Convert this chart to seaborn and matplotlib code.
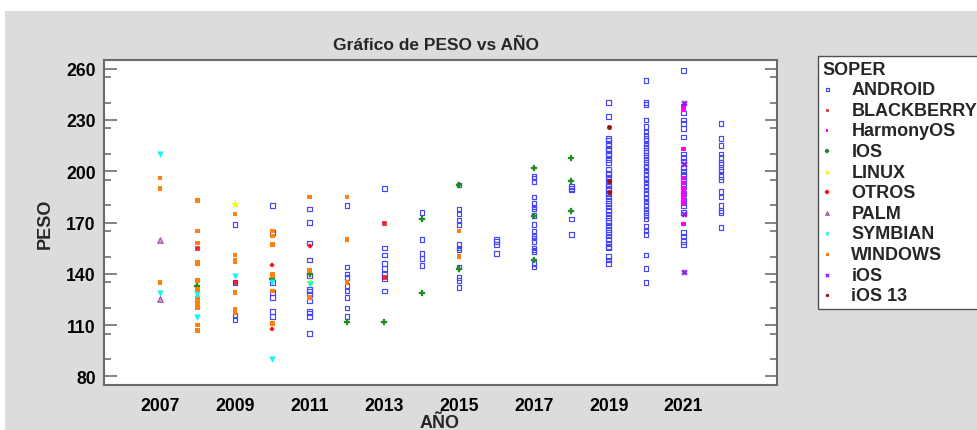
import matplotlib
matplotlib.use("Agg")
import matplotlib.pyplot as plt
from matplotlib.ticker import MultipleLocator
from matplotlib.patches import Rectangle
import seaborn as sns
import pandas as pd

# ---------------- data ----------------
android = {
    2009: [169, 135, 116, 113],
    2010: [180, 164, 135, 129, 126, 118, 115],
    2011: [178, 170, 158, 148, 139, 131, 130, 128, 124, 118, 117, 115, 105],
    2012: [180, 144, 140, 138, 133, 130, 126, 120, 115],
    2013: [190, 155, 151, 146, 143, 140, 137, 130],
    2014: [176, 160, 152, 149, 145],
    2015: [192, 178, 175, 171, 169, 157, 155, 154, 144, 138, 136, 132],
    2016: [160, 159, 157, 152],
    2017: [197, 196, 194, 185, 181, 179, 178, 174, 169, 165, 162, 161, 159,
           155, 154, 153, 146, 144],
    2018: [191, 190, 189, 172, 163],
    2019: [240, 232, 219, 218, 216, 215, 213, 212, 210, 209, 207, 205, 201,
           199, 198, 196, 194, 192, 190, 189, 187, 185, 183, 181, 179, 177,
           175, 173, 171, 170, 168, 166, 164, 162, 160, 158, 156, 155, 150,
           148, 146],
    2020: [253, 240, 239, 230, 226, 223, 221, 219, 218, 216, 214, 212, 211,
           209, 207, 205, 203, 202, 200, 198, 196, 195, 193, 191, 189, 187,
           185, 184, 182, 180, 178, 176, 174, 172, 168, 165, 163, 151, 143,
           135],
    2021: [259, 234, 230, 228, 225, 220, 210, 208, 206, 202, 200, 198, 197,
           194, 191, 187, 183, 180, 176, 164, 162, 159, 157],
    2022: [228, 219, 215, 210, 208, 205, 204, 201, 200, 197, 195, 188, 185,
           180, 177, 176, 167],
}
blackberry = {2008: [155], 2009: [135], 2013: [170, 138]}
harmonyos = {2021: [238, 236, 213, 196, 193, 190, 188, 186, 184, 181, 169]}
ios_upper = {2008: [133], 2010: [137], 2011: [140], 2012: [112], 2013: [112],
             2014: [172, 129], 2015: [192, 143], 2017: [202, 174, 148],
             2018: [208, 194, 177]}
linux = {2009: [181], 2011: [135]}
otros = {2010: [145, 108], 2011: [156]}
palm = {2007: [160, 125]}
symbian = {2007: [210, 129], 2008: [128, 126, 115], 2009: [139],
           2010: [135, 90], 2011: [134]}
windows = {
    2007: [196, 190, 135],
    2008: [183, 165, 158, 147, 146, 136, 131, 125, 122, 121, 120, 110, 107],
    2009: [175, 151, 148, 147, 129, 119, 117],
    2010: [165, 162, 157, 140, 139, 130, 111],
    2011: [185, 142, 126],
    2012: [185, 160, 135],
    2015: [165, 150],
}
ios_lower = {2021: [240, 204, 175, 141]}
ios13 = {2019: [226, 194, 188]}

series_names = ["ANDROID", "BLACKBERRY", "HarmonyOS", "IOS", "LINUX", "OTROS",
                "PALM", "SYMBIAN", "WINDOWS", "iOS", "iOS 13"]
series_data = [android, blackberry, harmonyos, ios_upper, linux, otros,
               palm, symbian, windows, ios_lower, ios13]

y_ticks = [80, 110, 140, 170, 200, 230, 260]
x_ticks = [2007, 2009, 2011, 2013, 2015, 2017, 2019, 2021]

rows = []
for name, d in zip(series_names, series_data):
    for yr, vals in d.items():
        for v in vals:
            rows.append({"AÑO": yr, "PESO": v, "SOPER": name})
df = pd.DataFrame(rows)

# ---------------- styles ----------------
styles = {
    "ANDROID":    dict(marker="s", s=11, facecolor="none", edgecolor="#4646ff", linewidth=0.85),
    "BLACKBERRY": dict(marker="s", s=11, color="#ff2030", edgecolor="#c00020", linewidth=0.4),
    "HarmonyOS":  dict(marker="s", s=10, color="#ff00ff", edgecolor="none", linewidth=0),
    "IOS":        dict(marker="P", s=14, color="#1e8c1e", edgecolor="#1e8c1e", linewidth=0.2),
    "LINUX":      dict(marker="*", s=34, color="#ffff00", edgecolor="#e0e000", linewidth=0.2),
    "OTROS":      dict(marker="P", s=12, color="#ff1010", edgecolor="#ff1010", linewidth=0.2),
    "PALM":       dict(marker="^", s=16, color="#d7a0d7", edgecolor="#a050a0", linewidth=0.8),
    "SYMBIAN":    dict(marker="v", s=17, color="#00ffff", edgecolor="#00e0e0", linewidth=0.2),
    "WINDOWS":    dict(marker="s", s=11, color="#ff8010", edgecolor="none", linewidth=0),
    "iOS":        dict(marker="X", s=18, color="#8c1aff", edgecolor="#8c1aff", linewidth=0.2),
    "iOS 13":     dict(marker="o", s=12, color="#a01010", edgecolor="#a01010", linewidth=0.2),
}

sns.set_style("white")
plt.rcParams["font.family"] = ["Liberation Sans", "DejaVu Sans"]
plt.rcParams["font.weight"] = "bold"

W, H = 978, 431
fig = plt.figure(figsize=(W / 100, H / 100), dpi=100)
fig.patch.set_facecolor("#dcdcdc")
fig.add_artist(Rectangle((0, 1 - 12 / H), 1, 12 / H, transform=fig.transFigure,
                         facecolor="white", edgecolor="none", zorder=-5))
fig.add_artist(Rectangle((0, 0), 5 / W, 1, transform=fig.transFigure,
                         facecolor="white", edgecolor="none", zorder=-5))

ax = fig.add_axes([104 / W, 1 - 386 / H, (777 - 104) / W, (386 - 61) / H])
ax.set_facecolor("white")

for name in series_names:
    sub = df[df["SOPER"] == name]
    sns.scatterplot(data=sub, x="AÑO", y="PESO", ax=ax, label=name,
                    legend=False, zorder=3, **styles[name])

ax.set_xlim(2005.5, 2023.5)
ax.set_ylim(75, 265)
ax.set_xticks(x_ticks)
ax.set_xticklabels([str(t) for t in x_ticks])
ax.set_yticks(y_ticks)
ax.set_yticklabels([str(t) for t in y_ticks])
ax.yaxis.set_minor_locator(MultipleLocator(15))

for lab in ax.get_xticklabels() + ax.get_yticklabels():
    lab.set_fontsize(12.7)
    lab.set_fontweight("bold")

ax.tick_params(axis="x", which="both", length=0, pad=9, colors="black")
ax.tick_params(axis="y", which="both", direction="in", left=True, right=True,
               color="#707070", width=1.2, pad=6, labelcolor="black")
ax.tick_params(axis="y", which="major", length=9)
ax.tick_params(axis="y", which="minor", length=5)

for sp in ax.spines.values():
    sp.set_color("#6a6a6a")
    sp.set_linewidth(1.5)

ax.set_xlabel("AÑO", fontsize=13, fontweight="bold")
ax.set_ylabel("PESO", fontsize=13, fontweight="bold")
ax.xaxis.set_label_coords(0.499, -29 / 325)
ax.yaxis.set_label_coords(-50 / 673, 0.5)
ax.set_title("Gráfico de PESO vs AÑO", fontsize=12.5, fontweight="bold", pad=8)
ax.title.set_x(0.493)

handles, labels = ax.get_legend_handles_labels()
leg = fig.legend(handles, labels, title="SOPER", loc="upper left",
                 bbox_to_anchor=(818 / W, 1 - 57 / H),
                 prop={"size": 13, "weight": "bold"},
                 title_fontproperties={"size": 13, "weight": "bold"},
                 alignment="left", frameon=True, fancybox=False,
                 edgecolor="#505050", framealpha=1, borderpad=0.25,
                 handlelength=0.5, handletextpad=1.1, labelspacing=0.2,
                 borderaxespad=0, markerscale=0.65)
leg.get_frame().set_linewidth(1.0)

fig.savefig("out.png", dpi=100, facecolor=fig.get_facecolor())
